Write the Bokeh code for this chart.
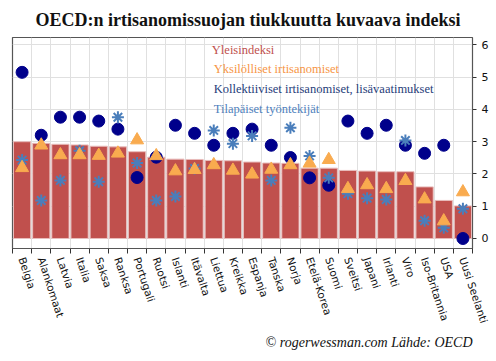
from bokeh.plotting import figure
from bokeh.models import (Range1d, FixedTicker, CustomJSTickFormatter, Title,
                          ColumnDataSource)
from bokeh.core.properties import value
from bokeh.embed import file_html
from bokeh.resources import INLINE

countries = ["Belgia", "Alankomaat", "Latvia", "Italia", "Saksa", "Ranksa",
             "Portugali", "Ruotsi", "Islanti", "Itävalta", "Liettua", "Kreikka",
             "Espanja", "Tanska", "Norja", "Etelä-Korea", "Suomi", "Sveitsi",
             "Japani", "Irlanti", "Viro", "Iso-Britannia", "USA", "Uusi Seelanti"]

yleisindeksi = [3.00, 2.95, 2.92, 2.90, 2.86, 2.84, 2.69, 2.52, 2.46, 2.45, 2.42, 2.41,
                2.37, 2.34, 2.33, 2.18, 2.18, 2.11, 2.09, 2.07, 2.07, 1.60, 1.18, 1.01]
yksilolliset = [2.19, 2.89, 2.59, 2.59, 2.57, 2.64, 3.05, 2.56, 2.09, 2.13, 2.28, 2.11,
                1.99, 2.14, 2.28, 2.33, 2.44, 1.54, 1.66, 1.54, 1.79, 1.22, 0.54, 1.44]
kollektiiviset = [5.15, 3.20, 3.76, 3.76, 3.64, 3.39, 1.89, 2.52, 3.51, 3.26, 2.89, 3.26,
                  3.39, 2.89, 2.51, 1.88, 1.65, 3.64, 3.26, 3.51, 2.89, 2.64, 2.89, 0.00]
tilapaiset = [2.43, 1.18, 1.80, 2.72, 1.76, 3.76, 2.34, 1.18, 1.30, 2.17, 3.35, 2.94,
              3.18, 1.80, 3.43, 2.56, 1.88, 1.39, 1.25, 1.21, 3.04, 0.55, 0.33, 0.92]

series_names = ["Yleisindeksi", "Yksilölliset irtisanomiset",
                "Kollektiiviset irtisanomiset, lisävaatimukset", "Tilapäiset työntekijät"]
series_colors = ["#C0504D", "#F79646", "#1F3D7A", "#4F81BD"]
y_ticks = [0, 1, 2, 3, 4, 5, 6]

title_text = "OECD:n irtisanomissuojan tiukkuutta kuvaava indeksi"
footer_text = "© rogerwessman.com Lähde: OECD"

n = len(countries)
xs = [i + 0.5 for i in range(n)]
bounds = list(range(n + 1))
src = ColumnDataSource(dict(x=xs, yl=yleisindeksi, yk=yksilolliset,
                            ko=kollektiiviset, ti=tilapaiset))

y0, y1 = -0.31, 6.23
p = figure(width=496, height=361, output_backend="svg", toolbar_location=None,
           x_range=Range1d(0, n), y_range=Range1d(y0, y1),
           y_axis_location="right",
           min_border_left=12, min_border_right=24, min_border_top=37,
           min_border_bottom=113)
p.outline_line_color = "#555555"
p.outline_line_width = 1.2
p.background_fill_color = "white"
p.border_fill_color = "white"

p.title.text = title_text
p.title.text_font = "Liberation Serif"
p.title.text_font_style = "bold"
p.title.text_font_size = "18px"
p.title.align = "left"
p.title.offset = 23
p.title.standoff = 15
p.title.text_color = "#111111"

# grids
p.xgrid.ticker = FixedTicker(ticks=bounds)
p.xgrid.grid_line_color = "#E0E0E0"
p.ygrid.ticker = FixedTicker(ticks=y_ticks)
p.ygrid.grid_line_color = "#E0E0E0"

# x axis
xa = p.xaxis[0]
xa.ticker = FixedTicker(ticks=xs, minor_ticks=bounds)
xa.formatter = CustomJSTickFormatter(args=dict(names=countries), code="""
const i = Math.floor(tick);
return (i >= 0 && i < names.length) ? names[i] : '';
""")
xa.axis_line_color = None
xa.major_tick_out = 0
xa.major_tick_in = 0
xa.minor_tick_out = 5
xa.minor_tick_in = 0
xa.minor_tick_line_color = "#333333"
xa.major_label_orientation = -1.25
xa.major_label_standoff = 4
xa.major_label_text_font = "DejaVu Sans"
xa.major_label_text_font_size = "10.5px"
xa.major_label_text_color = "#111111"

# y axis
ya = p.yaxis[0]
ya.ticker = FixedTicker(ticks=y_ticks)
ya.axis_line_color = None
ya.major_tick_out = 4
ya.major_tick_in = 0
ya.major_tick_line_color = "#333333"
ya.minor_tick_out = 0
ya.minor_tick_in = 0
ya.major_label_standoff = 5
ya.major_label_text_font = "DejaVu Sans"
ya.major_label_text_font_size = "11px"
ya.major_label_text_color = "#111111"

# data
p.vbar(x="x", top="yl", bottom=0, width=0.9, source=src,
       fill_color=series_colors[0], line_color="#E8BDBC", line_width=1)
p.scatter(x="x", y="ko", source=src, marker="circle", size=12,
          fill_color="#00008B", line_color="#00008B")
p.scatter(x="x", y="ti", source=src, marker="asterisk", size=12,
          line_color="#4A7EBB", line_width=2)
p.scatter(x="x", y="yk", source=src, marker="triangle", size=13,
          fill_color="#F9AB4F", line_color="#F9AB4F")

# legend texts
leg_x = [10.4, 10.5, 10.5, 10.5]
leg_y = [5.835, 5.24, 4.62, 4.02]
p.text(x=leg_x, y=leg_y, text=series_names, text_color=series_colors,
       text_font=value("Liberation Serif"), text_font_size="12.5px",
       text_baseline="middle", text_align="left")

p.add_layout(Title(text=footer_text, align="right", text_font="Liberation Serif",
                   text_font_style="italic", text_font_size="14px",
                   text_color="#111111", standoff=7), "below")

open("out.html", "w").write(file_html(p, INLINE))
